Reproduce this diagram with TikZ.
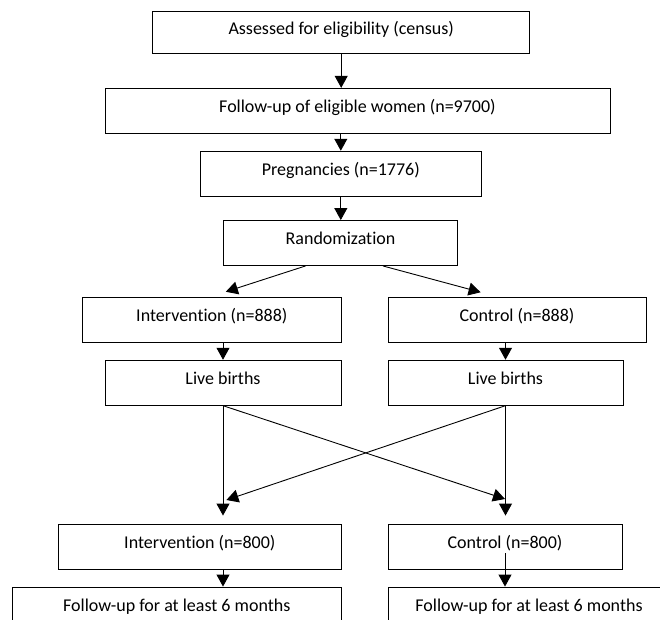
\documentclass[tikz,border=0pt]{standalone}
\usepackage{fontspec}
\setmainfont{Carlito}[Ligatures=NoCommon]
\usetikzlibrary{arrows.meta}
\begin{document}
\begin{tikzpicture}[
            x=1pt, y=-1pt,
            every node/.style={draw,line width=0.9pt,inner sep=0pt,text height=10pt,text depth=7pt,
                font=\fontsize{18}{20}\selectfont},
            box/.style 2 args={minimum width=#1,minimum height=#2},
            arr/.style={line width=0.9pt,-{Triangle[length=12pt,width=13pt]}}
            ]
            \path[use as bounding box,fill=white] (0,0) rectangle (660,619);
            \clip (0,0) rectangle (660,619);
            \node[box={377pt}{42pt}] (assess) at (341.2, 32.5) {Assessed for eligibility (census)};
            \node[box={505pt}{45pt}] (follow) at (357.5, 110.8) {Follow-up of eligible women (n=9700)};
            \node[box={281.5pt}{45pt}] (preg) at (340.8, 173.7) {Pregnancies (n=1776)};
            \node[box={234pt}{45pt}] (random) at (340.5, 243) {Randomization};
            \node[box={258.5pt}{45pt}] (intL) at (211.8, 319.7) {Intervention (n=888)};
            \node[box={258pt}{45pt}] (ctrlR) at (517, 319.7) {Control (n=888)};
            \node[box={236pt}{45pt}] (liveL) at (223, 382.7) {Live births};
            \node[box={235pt}{45pt}] (liveR) at (505.5, 382.7) {Live births};
            \node[box={282.5pt}{45pt}] (int800) at (199.8, 546.5) {Intervention (n=800)};
            \node[box={234pt}{45pt}] (ctrl800) at (505, 546.5) {Control (n=800)};
            \node[box={328.4pt}{45pt}] (fuL) at (176.8, 609.5) {Follow-up for at least 6 months};
            \node[box={282pt}{45pt}] (fuR) at (529, 609.5) {Follow-up for at least 6 months};
            \coordinate (crossL) at (226.4, 500);
            \coordinate (crossR) at (505, 499);
            \draw[arr] (assess.south) -- (assess.south |- follow.north);
            \draw[arr] (follow.south -| preg.north) -- (preg.north);
            \draw[arr] (preg.south) -- (preg.south |- random.north);
            \draw[arr] ([xshift=-35pt]random.south) -- ([xshift=14pt,yshift=5pt]intL.north);
            \draw[arr] ([xshift=42.5pt]random.south) -- ([xshift=-36.4pt,yshift=4.5pt]ctrlR.north);
            \draw[arr] (intL.south -| liveL.north) -- (liveL.north);
            \draw[arr] (ctrlR.south -| liveR.north) -- (liveR.north);
            \draw[arr,shorten >=8pt] (liveL.south) -- (liveL.south |- int800.north);
            \draw[arr,shorten >=8pt] (liveR.south) -- (liveR.south |- ctrl800.north);
            \draw[arr] (liveL.south) -- (crossR);
            \draw[arr] (liveR.south) -- (crossL);
            \draw[arr] (int800.south -| liveL.south) -- (liveL.south |- fuL.north);
            \draw[arr] ([yshift=16pt]ctrl800.south) -- (ctrl800.south |- fuR.north);
        \end{tikzpicture}
\end{document}
